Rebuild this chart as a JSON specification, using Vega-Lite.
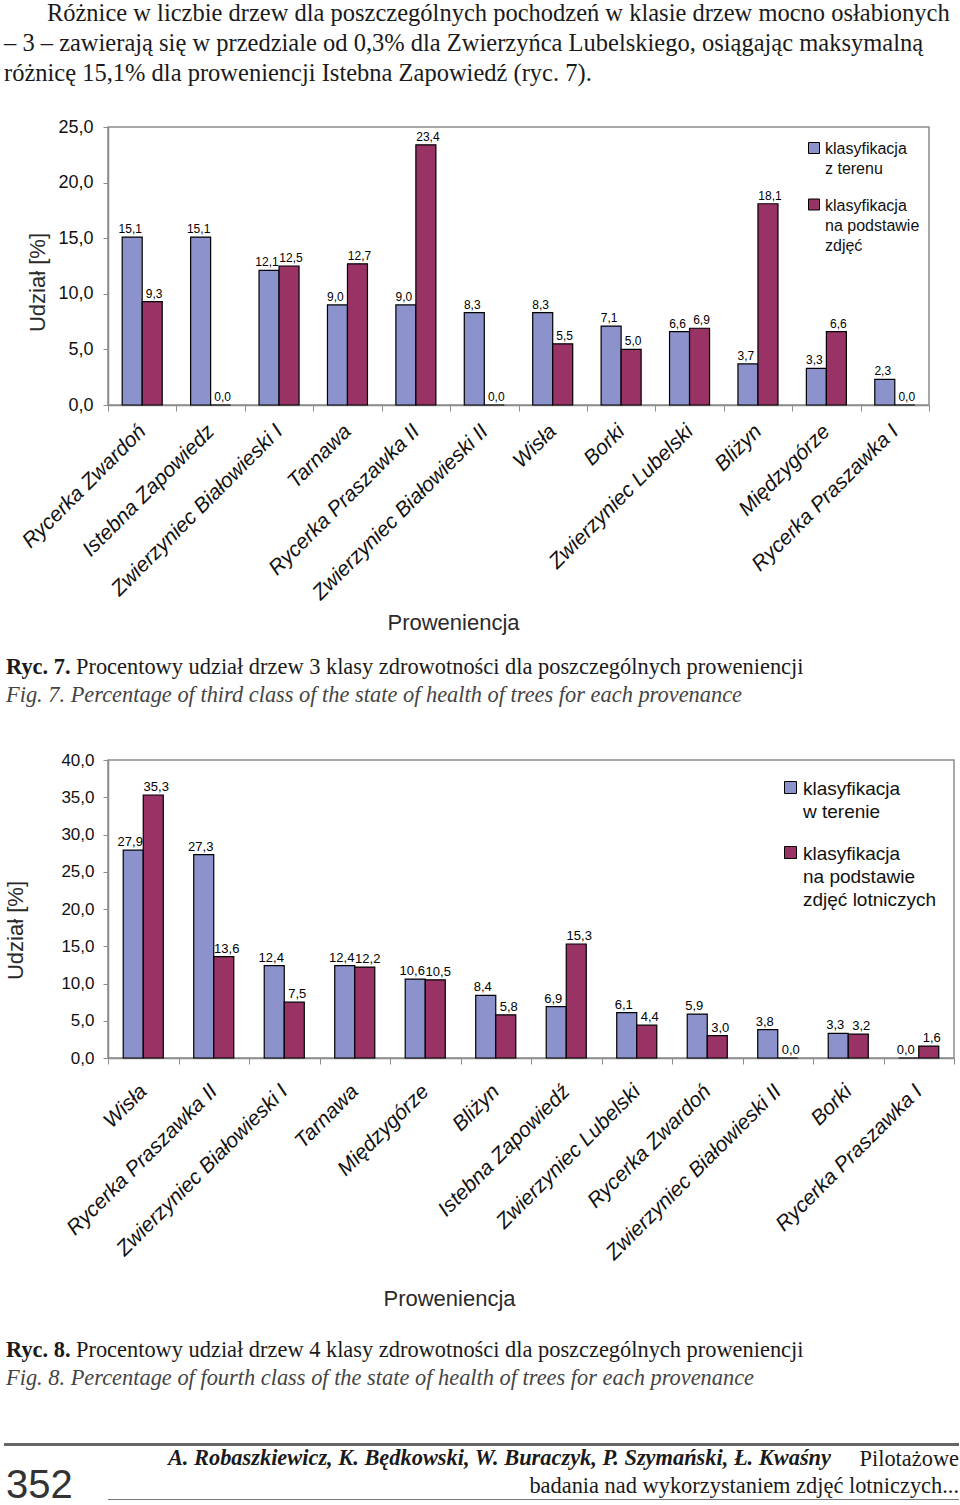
{
  "$schema": "https://vega.github.io/schema/vega-lite/v6.json",
  "background": "white",
  "padding": {"left": 3, "top": 0, "right": 2, "bottom": 2},
  "title": {
    "text": [
      "\u200b\u00a0\u00a0\u00a0\u00a0\u00a0\u00a0\u00a0Różnice w liczbie drzew dla poszczególnych pochodzeń w klasie drzew mocno osłabionych",
      "– 3 – zawierają się w przedziale od 0,3% dla Zwierzyńca Lubelskiego, osiągając maksymalną",
      "różnicę 15,1% dla proweniencji Istebna Zapowiedź (ryc. 7)."
    ],
    "anchor": "start",
    "frame": "group",
    "orient": "top",
    "font": "Liberation Serif",
    "fontSize": 24.5,
    "fontWeight": "normal",
    "color": "#1a1a1a",
    "lineHeight": 30,
    "offset": 31
  },
  "resolve": {"scale": {"color": "independent", "xOffset": "independent"}, "legend": {"color": "independent"}},
  "datasets": {
    "ryc7": [
      {"p": "Rycerka Zwardoń", "s": "klasyfikacja|z terenu", "v": 15.1},
      {"p": "Rycerka Zwardoń", "s": "klasyfikacja|na podstawie|zdjęć", "v": 9.3},
      {"p": "Istebna Zapowiedz", "s": "klasyfikacja|z terenu", "v": 15.1},
      {"p": "Istebna Zapowiedz", "s": "klasyfikacja|na podstawie|zdjęć", "v": 0.0},
      {"p": "Zwierzyniec Białowieski I", "s": "klasyfikacja|z terenu", "v": 12.1},
      {"p": "Zwierzyniec Białowieski I", "s": "klasyfikacja|na podstawie|zdjęć", "v": 12.5},
      {"p": "Tarnawa", "s": "klasyfikacja|z terenu", "v": 9.0},
      {"p": "Tarnawa", "s": "klasyfikacja|na podstawie|zdjęć", "v": 12.7},
      {"p": "Rycerka Praszawka II", "s": "klasyfikacja|z terenu", "v": 9.0},
      {"p": "Rycerka Praszawka II", "s": "klasyfikacja|na podstawie|zdjęć", "v": 23.4},
      {"p": "Zwierzyniec Białowieski II", "s": "klasyfikacja|z terenu", "v": 8.3},
      {"p": "Zwierzyniec Białowieski II", "s": "klasyfikacja|na podstawie|zdjęć", "v": 0.0},
      {"p": "Wisła", "s": "klasyfikacja|z terenu", "v": 8.3},
      {"p": "Wisła", "s": "klasyfikacja|na podstawie|zdjęć", "v": 5.5},
      {"p": "Borki", "s": "klasyfikacja|z terenu", "v": 7.1},
      {"p": "Borki", "s": "klasyfikacja|na podstawie|zdjęć", "v": 5.0},
      {"p": "Zwierzyniec Lubelski", "s": "klasyfikacja|z terenu", "v": 6.6},
      {"p": "Zwierzyniec Lubelski", "s": "klasyfikacja|na podstawie|zdjęć", "v": 6.9},
      {"p": "Bliżyn", "s": "klasyfikacja|z terenu", "v": 3.7},
      {"p": "Bliżyn", "s": "klasyfikacja|na podstawie|zdjęć", "v": 18.1},
      {"p": "Międzygórze", "s": "klasyfikacja|z terenu", "v": 3.3},
      {"p": "Międzygórze", "s": "klasyfikacja|na podstawie|zdjęć", "v": 6.6},
      {"p": "Rycerka Praszawka I", "s": "klasyfikacja|z terenu", "v": 2.3},
      {"p": "Rycerka Praszawka I", "s": "klasyfikacja|na podstawie|zdjęć", "v": 0.0}
    ],
    "ryc8": [
      {"p": "Wisła", "s": "klasyfikacja|w terenie", "v": 27.9},
      {"p": "Wisła", "s": "klasyfikacja|na podstawie|zdjęć lotniczych", "v": 35.3},
      {"p": "Rycerka Praszawka II", "s": "klasyfikacja|w terenie", "v": 27.3},
      {"p": "Rycerka Praszawka II", "s": "klasyfikacja|na podstawie|zdjęć lotniczych", "v": 13.6},
      {"p": "Zwierzyniec Białowieski I", "s": "klasyfikacja|w terenie", "v": 12.4},
      {"p": "Zwierzyniec Białowieski I", "s": "klasyfikacja|na podstawie|zdjęć lotniczych", "v": 7.5},
      {"p": "Tarnawa", "s": "klasyfikacja|w terenie", "v": 12.4},
      {"p": "Tarnawa", "s": "klasyfikacja|na podstawie|zdjęć lotniczych", "v": 12.2},
      {"p": "Międzygórze", "s": "klasyfikacja|w terenie", "v": 10.6},
      {"p": "Międzygórze", "s": "klasyfikacja|na podstawie|zdjęć lotniczych", "v": 10.5},
      {"p": "Bliżyn", "s": "klasyfikacja|w terenie", "v": 8.4},
      {"p": "Bliżyn", "s": "klasyfikacja|na podstawie|zdjęć lotniczych", "v": 5.8},
      {"p": "Istebna Zapowiedź", "s": "klasyfikacja|w terenie", "v": 6.9},
      {"p": "Istebna Zapowiedź", "s": "klasyfikacja|na podstawie|zdjęć lotniczych", "v": 15.3},
      {"p": "Zwierzyniec Lubelski", "s": "klasyfikacja|w terenie", "v": 6.1},
      {"p": "Zwierzyniec Lubelski", "s": "klasyfikacja|na podstawie|zdjęć lotniczych", "v": 4.4},
      {"p": "Rycerka Zwardoń", "s": "klasyfikacja|w terenie", "v": 5.9},
      {"p": "Rycerka Zwardoń", "s": "klasyfikacja|na podstawie|zdjęć lotniczych", "v": 3.0},
      {"p": "Zwierzyniec Białowieski II", "s": "klasyfikacja|w terenie", "v": 3.8},
      {"p": "Zwierzyniec Białowieski II", "s": "klasyfikacja|na podstawie|zdjęć lotniczych", "v": 0.0},
      {"p": "Borki", "s": "klasyfikacja|w terenie", "v": 3.3},
      {"p": "Borki", "s": "klasyfikacja|na podstawie|zdjęć lotniczych", "v": 3.2},
      {"p": "Rycerka Praszawka I", "s": "klasyfikacja|w terenie", "v": 0.0},
      {"p": "Rycerka Praszawka I", "s": "klasyfikacja|na podstawie|zdjęć lotniczych", "v": 1.6}
    ]
  },
  "columns": 2,
  "bounds": "flush",
  "spacing": 0,
  "concat": [
    {"width": 104, "height": 278, "data": {"values": []}, "mark": "point", "view": {"stroke": null}},
    {
      "width": 821,
      "height": 278,
      "data": {"name": "ryc7"},
      "encoding": {
        "x": {
          "field": "p", "type": "nominal", "sort": null,
          "scale": {"paddingInner": 0, "paddingOuter": 0},
          "axis": {
            "title": "Proweniencja", "tickBand": "extent", "labelAngle": -45, "labelAlign": "right",
            "labelBaseline": "middle", "labelFontSize": 21, "labelFontStyle": "italic", "labelPadding": 17,
            "labelLimit": 400, "labelOverlap": false, "tickSize": 6, "titleFontSize": 22,
            "titleX": 345, "titleY": 217, "titleBaseline": "middle", "titleAlign": "center"
          }
        },
        "xOffset": {"field": "s", "type": "nominal", "sort": null, "scale": {"paddingInner": 0, "paddingOuter": 0.71}},
        "y": {
          "field": "v", "type": "quantitative",
          "scale": {"domain": [0, 25], "nice": false},
          "axis": {
            "values": [0, 5, 10, 15, 20, 25], "format": ".1f", "title": "Udział [%]",
            "titleFontSize": 22, "titleX": -71, "titleY": 155, "titleAngle": -90, "titleBaseline": "middle", "titleAlign": "center",
            "labelFontSize": 18, "labelPadding": 10, "tickSize": 5
          }
        }
      },
      "layer": [
        {
          "mark": {"type": "bar", "stroke": "#000", "strokeWidth": 1.2},
          "encoding": {
            "color": {
              "field": "s", "type": "nominal", "sort": null,
              "scale": {"domain": ["klasyfikacja|z terenu", "klasyfikacja|na podstawie|zdjęć"], "range": ["#8b92cc", "#993366"]},
              "legend": {
                "title": null, "orient": "none", "legendX": 698, "legendY": 13,
                "symbolType": "square", "symbolSize": 121, "symbolStrokeColor": "#000", "symbolStrokeWidth": 1,
                "labelFontSize": 16, "labelColor": "#111", "labelExpr": "split(datum.label, '|')",
                "labelBaseline": "top", "rowPadding": 19.5, "labelOffset": 3,
                "encode": {"labels": {"update": {"dy": {"value": -7}, "lineHeight": {"value": 20}}}}
              }
            }
          }
        },
        {
          "transform": [{"filter": {"field": "s", "equal": "klasyfikacja|z terenu"}}],
          "mark": {"type": "text", "dy": -4, "dx": -2, "baseline": "alphabetic", "fontSize": 12, "color": "#000"},
          "encoding": {"text": {"field": "v", "type": "quantitative", "format": ".1f"}}
        },
        {
          "transform": [{"filter": {"field": "s", "equal": "klasyfikacja|na podstawie|zdjęć"}}],
          "mark": {"type": "text", "dy": -4, "dx": 2, "baseline": "alphabetic", "fontSize": 12, "color": "#000"},
          "encoding": {"text": {"field": "v", "type": "quantitative", "format": ".1f"}}
        }
      ]
    },
    {
      "width": 104, "height": 245, "data": {"values": []}, "mark": "point", "view": {"stroke": null},
      "title": {
        "text": "Ryc. 7.",
        "subtitle": "Fig. 7. Percentage of third class of the state of health of trees for each provenance",
        "orient": "bottom", "anchor": "start", "frame": "group", "dx": 2, "offset": 6,
        "fontSize": 22.4, "fontWeight": "bold", "subtitleFontSize": 22.4, "subtitlePadding": 6
      }
    },
    {
      "width": 821, "height": 245, "data": {"values": []}, "mark": "point", "view": {"stroke": null},
      "title": {
        "text": "Procentowy udział drzew 3 klasy zdrowotności dla poszczególnych proweniencji",
        "orient": "bottom", "anchor": "start", "frame": "group", "dx": -32, "offset": 6,
        "fontSize": 22.4
      }
    },
    {"width": 104, "height": 110, "data": {"values": []}, "mark": "point", "view": {"stroke": null}},
    {"width": 821, "height": 110, "data": {"values": []}, "mark": "point", "view": {"stroke": null}},
    {"width": 104, "height": 298, "data": {"values": []}, "mark": "point", "view": {"stroke": null}},
    {
      "width": 846,
      "height": 298,
      "data": {"name": "ryc8"},
      "encoding": {
        "x": {
          "field": "p", "type": "nominal", "sort": null,
          "scale": {"paddingInner": 0, "paddingOuter": 0},
          "axis": {
            "title": "Proweniencja", "tickBand": "extent", "labelAngle": -45, "labelAlign": "right",
            "labelBaseline": "middle", "labelFontSize": 21, "labelFontStyle": "italic", "labelPadding": 24,
            "labelLimit": 400, "labelOverlap": false, "tickSize": 6, "titleFontSize": 22,
            "titleX": 341, "titleY": 240, "titleBaseline": "middle", "titleAlign": "center"
          }
        },
        "xOffset": {"field": "s", "type": "nominal", "sort": null, "scale": {"paddingInner": 0, "paddingOuter": 0.76}},
        "y": {
          "field": "v", "type": "quantitative",
          "scale": {"domain": [0, 40], "nice": false},
          "axis": {
            "values": [0, 5, 10, 15, 20, 25, 30, 35, 40], "format": ".1f", "title": "Udział [%]",
            "titleFontSize": 22, "titleX": -93, "titleY": 170, "titleAngle": -90, "titleBaseline": "middle", "titleAlign": "center",
            "labelFontSize": 17, "labelPadding": 9, "tickSize": 5
          }
        }
      },
      "layer": [
        {
          "mark": {"type": "bar", "stroke": "#000", "strokeWidth": 1.2},
          "encoding": {
            "color": {
              "field": "s", "type": "nominal", "sort": null,
              "scale": {"domain": ["klasyfikacja|w terenie", "klasyfikacja|na podstawie|zdjęć lotniczych"], "range": ["#8b92cc", "#993366"]},
              "legend": {
                "title": null, "orient": "none", "legendX": 673, "legendY": 18,
                "symbolType": "square", "symbolSize": 144, "symbolStrokeColor": "#000", "symbolStrokeWidth": 1,
                "labelFontSize": 19, "labelColor": "#111", "labelExpr": "split(datum.label, '|')",
                "labelBaseline": "top", "rowPadding": 21, "labelOffset": 3,
                "encode": {"labels": {"update": {"dy": {"value": -8}, "lineHeight": {"value": 23}}}}
              }
            }
          }
        },
        {
          "transform": [{"filter": {"field": "s", "equal": "klasyfikacja|w terenie"}}],
          "mark": {"type": "text", "dy": -4, "dx": -3, "baseline": "alphabetic", "fontSize": 13, "color": "#000"},
          "encoding": {"text": {"field": "v", "type": "quantitative", "format": ".1f"}}
        },
        {
          "transform": [{"filter": {"field": "s", "equal": "klasyfikacja|na podstawie|zdjęć lotniczych"}}],
          "mark": {"type": "text", "dy": -4, "dx": 3, "baseline": "alphabetic", "fontSize": 13, "color": "#000"},
          "encoding": {"text": {"field": "v", "type": "quantitative", "format": ".1f"}}
        }
      ]
    },
    {
      "width": 104, "height": 274, "data": {"values": []}, "mark": "point", "view": {"stroke": null},
      "title": {
        "text": "Ryc. 8.",
        "subtitle": "Fig. 8. Percentage of fourth class of the state of health of trees for each provenance",
        "orient": "bottom", "anchor": "start", "frame": "group", "dx": 2, "offset": 7,
        "fontSize": 22.4, "fontWeight": "bold", "subtitleFontSize": 22.4, "subtitlePadding": 6
      }
    },
    {
      "width": 846, "height": 274, "data": {"values": []}, "mark": "point", "view": {"stroke": null},
      "title": {
        "text": "Procentowy udział drzew 4 klasy zdrowotności dla poszczególnych proweniencji",
        "orient": "bottom", "anchor": "start", "frame": "group", "dx": -32, "offset": 7,
        "fontSize": 22.4
      }
    },
    {"width": 104, "height": 111, "data": {"values": []}, "mark": "point", "view": {"stroke": null}},
    {"width": 846, "height": 111, "data": {"values": []}, "mark": "point", "view": {"stroke": null}},
    {"width": 104, "height": 3, "data": {"values": []}, "mark": "point", "view": {"stroke": null, "fill": "#666"}},
    {"width": 851, "height": 3, "data": {"values": []}, "mark": "point", "view": {"stroke": null, "fill": "#666"}},
    {"width": 104, "height": 22, "data": {"values": []}, "mark": "point", "view": {"stroke": null}},
    {"width": 851, "height": 22, "data": {"values": []}, "mark": "point", "view": {"stroke": null}},
    {"width": 104, "height": 31, "data": {"values": []}, "mark": "point", "view": {"stroke": null}},
    {
      "width": 851, "height": 31, "data": {"values": []}, "mark": "point", "view": {"stroke": null},
      "title": {
        "text": "A. Robaszkiewicz, K. Będkowski, W. Buraczyk, P. Szymański, Ł. Kwaśny",
        "orient": "top", "anchor": "end", "frame": "group", "dx": -128, "offset": -1,
        "fontSize": 22.4, "fontStyle": "italic", "fontWeight": "bold"
      }
    },
    {
      "width": 104, "height": 1, "data": {"values": []}, "mark": "point", "view": {"stroke": null},
      "title": {
        "text": "352", "orient": "top", "anchor": "start", "frame": "group", "dx": 2, "offset": -7,
        "font": "Liberation Sans", "fontSize": 40, "color": "#333"
      }
    },
    {
      "width": 851, "height": 1, "data": {"values": []}, "mark": "point", "view": {"stroke": null, "fill": "#777"},
      "title": {
        "text": ["Pilotażowe", "badania nad wykorzystaniem zdjęć lotniczych..."],
        "orient": "top", "anchor": "end", "frame": "group", "offset": 2, "lineHeight": 27, "fontSize": 22.4
      }
    }
  ],
  "config": {
    "locale": {"number": {"decimal": ",", "thousands": "\u00a0", "grouping": [3], "currency": ["", " zł"]}},
    "font": "Liberation Sans",
    "view": {"stroke": "#8c8c8c", "strokeWidth": 1.5},
    "title": {"font": "Liberation Serif", "fontWeight": "normal", "color": "#1a1a1a", "subtitleFont": "Liberation Serif", "subtitleFontStyle": "italic", "subtitleColor": "#444"},
    "axis": {
      "grid": false, "domainColor": "#8c8c8c", "domainWidth": 1.5, "tickColor": "#8c8c8c",
      "labelColor": "#111", "titleColor": "#2a2a2a", "titleFontWeight": "normal",
      "labelFont": "Liberation Sans", "titleFont": "Liberation Sans"
    },
    "legend": {"labelFont": "Liberation Sans"}
  }
}
